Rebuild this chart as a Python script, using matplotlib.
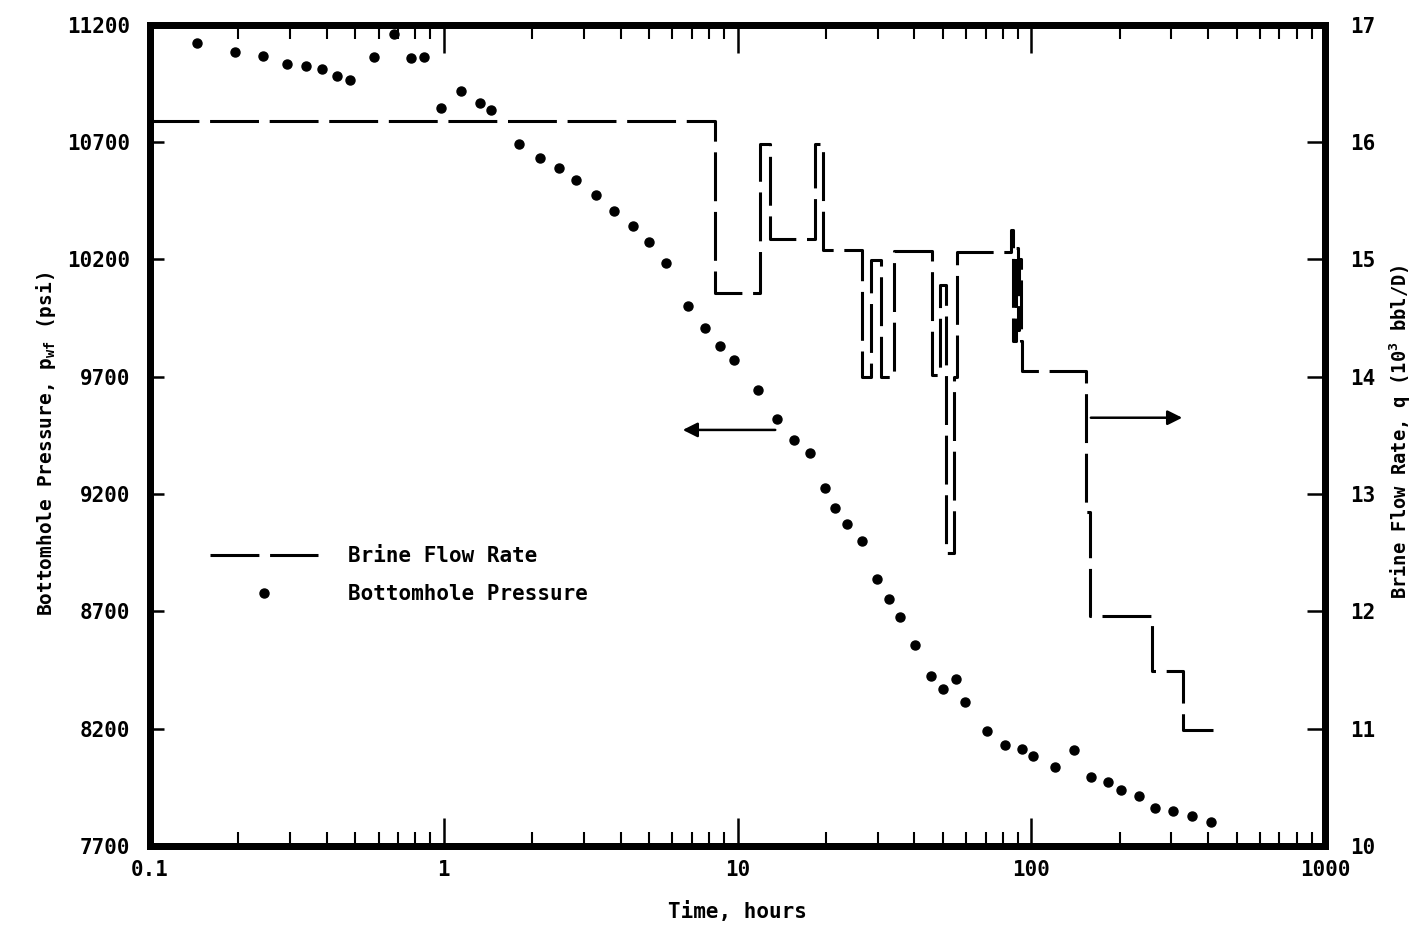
import matplotlib
matplotlib.use('Agg')
import matplotlib.pyplot as plt
from matplotlib.lines import Line2D
from matplotlib.ticker import FixedLocator, LogLocator, NullFormatter

# bottomhole pressure readings
time_p = [0.1445, 0.1948, 0.2424, 0.2927, 0.3398, 0.3851, 0.4330, 0.4797,
          0.5789, 0.6771, 0.7736, 0.8566, 0.9786, 1.145, 1.329, 1.448,
          1.804, 2.127, 2.468, 2.819, 3.298, 3.798, 4.409, 4.996, 5.709,
          6.785, 7.752, 8.717, 9.729, 11.75, 13.63, 15.57, 17.65, 19.86,
          21.47, 23.59, 26.54, 29.85, 32.79, 35.74, 40.21, 45.57, 50.06,
          55.43, 59.50, 70.70, 81.40, 93.0, 101.4, 120.5, 139.8, 159.7,
          182.5, 202.1, 232.6, 263.8, 303.8, 352.6, 409.2]
pwf = [11122, 11082, 11068, 11033, 11024, 11011, 10980, 10963,
       11064, 11161, 11058, 11062, 10844, 10916, 10868, 10838,
       10693, 10632, 10589, 10537, 10473, 10408, 10344, 10275, 10185,
       10002, 9907, 9830, 9770, 9641, 9518, 9432, 9376, 9226,
       9141, 9072, 9000, 8838, 8752, 8675, 8555, 8423, 8367,
       8413, 8315, 8191, 8131, 8113, 8083, 8036, 8111, 7996,
       7974, 7939, 7913, 7862, 7848, 7826, 7804]

# brine flow rate, each value holds until the next time
time_q = [0.1, 8.38, 11.93, 12.90, 18.36, 19.54, 26.54, 28.48, 30.80, 34.11,
          45.93, 48.92, 51.28, 54.58, 55.87, 85.0, 87.0, 88.5, 89.8, 91.2,
          92.6, 93.0, 153.6, 158.5, 257.7, 328.6, 415.6]
q = [16.18, 14.71, 15.98, 15.17, 15.98, 15.08, 14.0, 14.99, 14.0, 15.07,
     14.01, 14.78, 12.50, 14.0, 15.06, 15.25, 14.3, 15.1, 14.4, 15.0,
     14.3, 14.05, 12.85, 11.96, 11.49, 10.99, 10.99]

x_ticks = [0.1, 1, 10, 100, 1000]
x_labels = ['0.1', '1', '10', '100', '1000']
p_ticks = [7700, 8200, 8700, 9200, 9700, 10200, 10700, 11200]
q_ticks = [10, 11, 12, 13, 14, 15, 16, 17]

plt.rcParams['font.family'] = ['DejaVu Sans Mono']
plt.rcParams['font.weight'] = 'bold'
plt.rcParams['mathtext.default'] = 'regular'

fig = plt.figure(figsize=(14.18, 9.27), dpi=100)
ax = fig.add_axes([0.1058, 0.0874, 0.8286, 0.8860])
ax2 = ax.twinx()

dash = (0, (16, 3.5))
ax.plot(time_p, pwf, 'o', ms=6.5, color='black', ls='none')
ax2.step(time_q, q, where='post', color='black', lw=2.2, ls=dash)

ax.set_xscale('log')
ax.set_xlim(0.1, 1000)
ax.set_ylim(7700, 11200)
ax2.set_ylim(10, 17)

ax.xaxis.set_major_locator(FixedLocator(x_ticks))
ax.set_xticklabels(x_labels)
ax.xaxis.set_minor_locator(LogLocator(base=10, subs=range(2, 10)))
ax.xaxis.set_minor_formatter(NullFormatter())
ax.set_yticks(p_ticks)
ax2.set_yticks(q_ticks)

ax.tick_params(axis='x', which='major', direction='in', top=True, length=20,
               width=1.8, labelsize=15, pad=10)
ax.tick_params(axis='x', which='minor', direction='in', top=True, length=10,
               width=1.5)
ax.tick_params(axis='y', direction='in', length=10, width=1.8,
               labelsize=15, pad=14)
ax2.tick_params(axis='y', direction='in', length=13, width=1.8,
                labelsize=15, pad=18)

for a in (ax, ax2):
    for s in a.spines.values():
        s.set_linewidth(5)

ax.set_xlabel('Time, hours', fontsize=15, fontweight='bold')
ax.xaxis.set_label_coords(0.5, -0.067)
ax.set_ylabel('Bottomhole Pressure, p$_{wf}$ (psi)', fontsize=14,
              fontweight='bold')
ax.yaxis.set_label_coords(-0.078, 0.49)
ax2.set_ylabel('Brine Flow Rate, q (10$^3$ bbl/D)', fontsize=13.5,
               fontweight='bold')
ax2.yaxis.set_label_coords(1.053, 0.505)

# arrows pointing at each curve's axis
ax.annotate('', xy=(6.37, 9473), xytext=(13.74, 9473),
            arrowprops=dict(arrowstyle='-|>', lw=1.8, color='black',
                            mutation_scale=22))
ax2.annotate('', xy=(333.8, 13.65), xytext=(156.1, 13.65),
             arrowprops=dict(arrowstyle='-|>', lw=1.8, color='black',
                             mutation_scale=22))

handles = [Line2D([], [], color='black', lw=2.2, ls=dash),
           Line2D([], [], marker='o', ms=6.5, color='black', ls='none')]
ax2.legend(handles, ['Brine Flow Rate', 'Bottomhole Pressure'],
           loc='upper left', bbox_to_anchor=(0.051, 0.365), frameon=False,
           borderpad=0, borderaxespad=0, handlelength=5.2,
           handletextpad=1.45, labelspacing=0.85,
           prop={'size': 15, 'weight': 'bold', 'family': 'DejaVu Sans Mono'})

fig.savefig('out.png', dpi=100)
